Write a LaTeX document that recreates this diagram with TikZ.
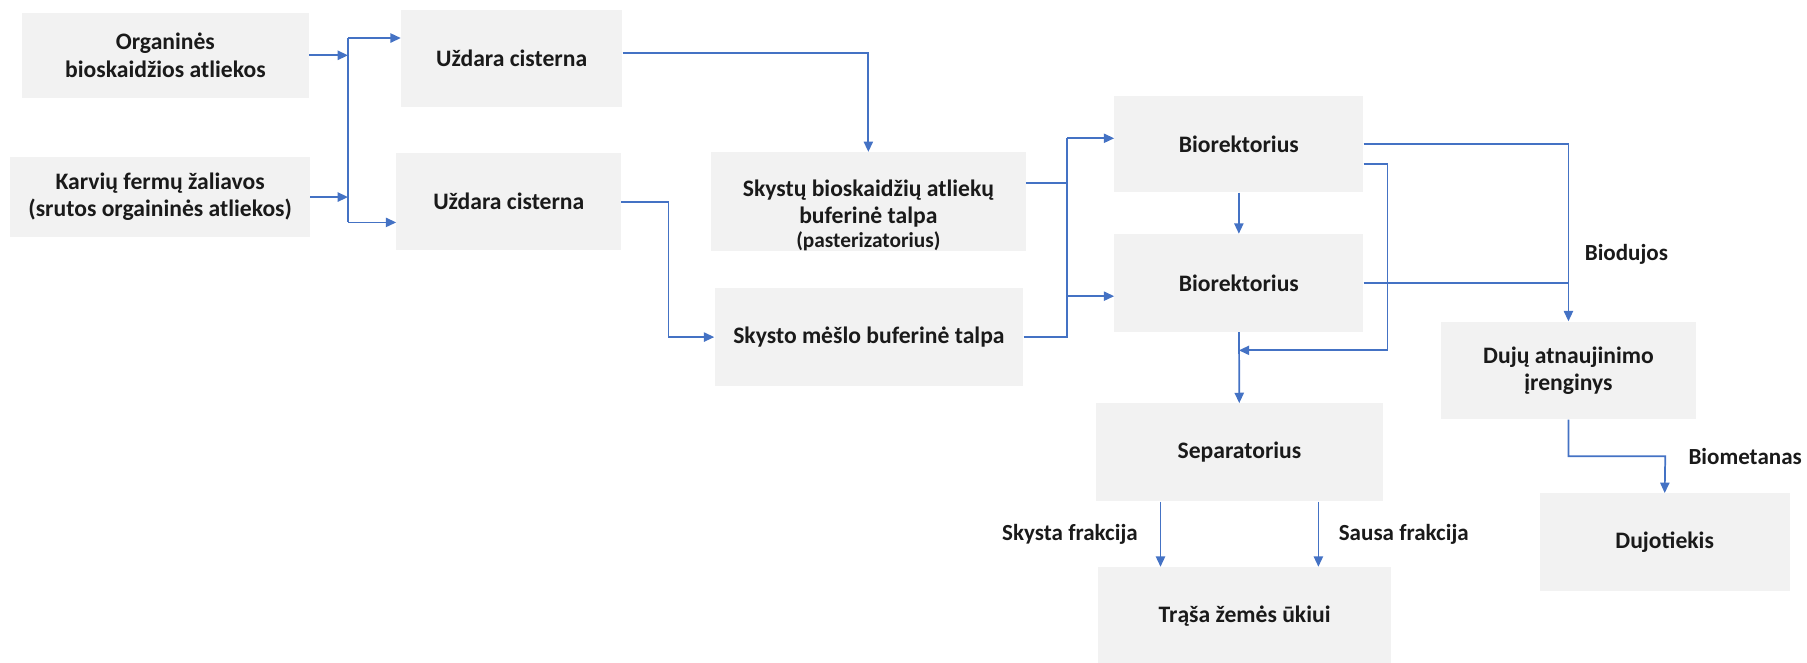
\documentclass[tikz,border=0pt]{standalone}
\usepackage{fontspec}
\setmainfont{Carlito}
\usetikzlibrary{arrows.meta}
\definecolor{boxgray}{HTML}{F2F2F2}
\definecolor{flowblue}{HTML}{4472C4}
\definecolor{txtblack}{HTML}{1A1A1A}
\newcommand{\pastline}[1]{\textbf{\fontsize{18.5}{20}\selectfont\bfseries #1}}
\begin{document}
\begin{tikzpicture}[x=1pt,y=-1pt,
  box/.style={fill=boxgray,inner sep=0pt,align=center,text=txtblack,font=\fontsize{20.5}{23.5}\selectfont\bfseries},
  lbl/.style={inner sep=0pt,text=txtblack,font=\fontsize{20}{22}\selectfont\bfseries},
  flow/.style={draw=flowblue,line width=1.5pt},
  >={Triangle[length=9pt,width=8pt]}]
\useasboundingbox (0,0) rectangle (1568,575);
\node[box,minimum width=249,minimum height=74] (OA) at (143.5,48) {Organinės\\bioskaidžios atliekos};
\node[box,minimum width=260,minimum height=70] (KF) at (139,171) {Karvių fermų žaliavos\\(srutos orgaininės atliekos)};
\node[box,minimum width=192,minimum height=84] (UC1) at (444,51) {Uždara cisterna};
\node[box,minimum width=195,minimum height=84] (UC2) at (441.5,175) {Uždara cisterna};
\node[box,minimum width=273,minimum height=86] (SB) at (753.5,175) {};
\node[box,fill=none] (SBT) at (753.5,187) {Skystų bioskaidžių atliekų\\buferinė talpa\\[-3pt]\pastline{(pasterizatorius)}};
\node[box,minimum width=268,minimum height=85] (SM) at (754,292.5) {Skysto mėšlo buferinė talpa};
\node[box,minimum width=216,minimum height=84] (B1) at (1075,125) {Biorektorius};
\node[box,minimum width=216,minimum height=85] (B2) at (1075,245.5) {Biorektorius};
\node[box,minimum width=249,minimum height=85] (SEP) at (1075.5,392.5) {Separatorius};
\node[box,minimum width=254,minimum height=86] (TR) at (1080,535) {Trąša žemės ūkiui};
\node[box,minimum width=222,minimum height=85] (DA) at (1361,321.5) {Dujų atnaujinimo\\įrenginys};
\node[box,minimum width=217,minimum height=85] (DT) at (1444.5,470.5) {Dujotiekis};
\coordinate (J1t) at (302,33);
\coordinate (J1b) at (302,193);
\coordinate (J2) at (580,175);
\coordinate (J3t) at (926,120);
\coordinate (J3m) at (926,257);
\coordinate (J3b) at (926,293);
\coordinate (J4) at (1204,304);
\coordinate (J5) at (1445,396);
\draw[flow,->] (OA.east) -- (OA.east -| J1t);
\draw[flow,->] (KF.east) -- (KF.east -| J1t);
\draw[flow] (J1t) -- (J1b);
\draw[flow,->] (J1t) -- (J1t -| UC1.west);
\draw[flow,->] (J1b) -- (J1b -| UC2.west);
\draw[flow,->] ([yshift=5pt]UC1.east) -| (SB.north);
\draw[flow,->] (UC2.east) -- (J2) |- (SM.west);
\draw[flow] ([yshift=16pt]SB.east) -- ([yshift=16pt]SB.east -| J3t);
\draw[flow] (SM.east) -- (SM.east -| J3b);
\draw[flow] (J3t) -- (J3b);
\draw[flow,->] (J3t) -- (J3t -| B1.west);
\draw[flow,->] (J3m) -- (J3m -| B2.west);
\draw[flow,->] (B1) -- (B2);
\draw[flow,->] (B1.east) -| (DA.north);
\draw[flow] (B2.east) -- (B2.east -| DA.north);
\draw[flow,->] ([yshift=-17pt]B1.east) -| (J4) -- (J4 -| B2.south);
\draw[flow,->] (B2) -- (SEP);
\draw[flow,->] ([xshift=-68.5pt]SEP.south) -- ([xshift=-68.5pt]SEP.south |- TR.north) node[lbl,midway,left=19pt] (LSK) {Skysta frakcija};
\draw[flow,->] ([xshift=68.5pt]SEP.south) -- ([xshift=68.5pt]SEP.south |- TR.north) node[lbl,midway,right=17pt] (LSA) {Sausa frakcija};
\draw[flow,->] (DA.south) |- (J5) -- (DT.north);
\node[lbl,anchor=west] (LBM) at (1465,396) {Biometanas};
\node[lbl,anchor=west] (LBD) at (1375,221) {Biodujos};
\end{tikzpicture}
\end{document}
